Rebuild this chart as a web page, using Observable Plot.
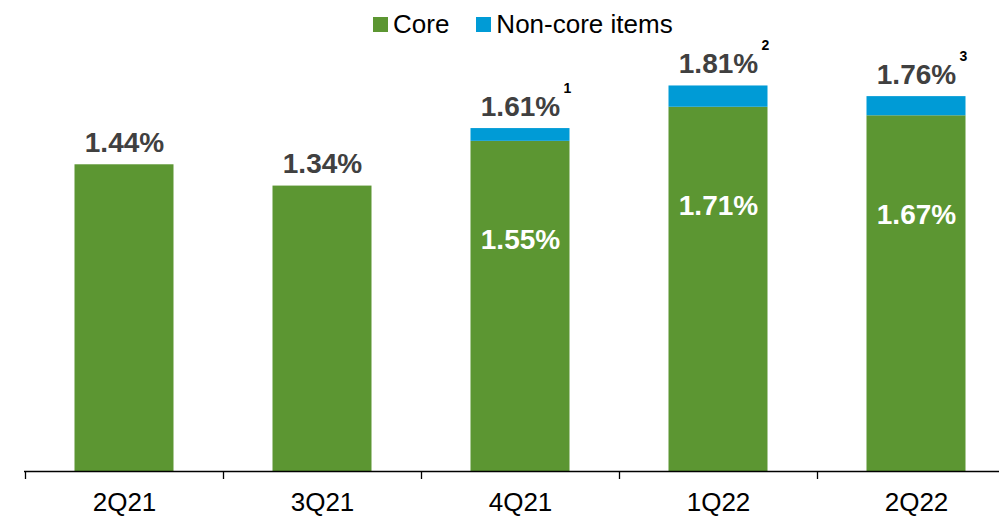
<!DOCTYPE html>
<html>
<head>
<meta charset="utf-8">
<script src="https://cdn.jsdelivr.net/npm/d3@7"></script>
<script src="https://cdn.jsdelivr.net/npm/@observablehq/plot@0.6"></script>
<style>
  html, body { margin: 0; padding: 0; background: #fff; }
  body { width: 999px; height: 516px; overflow: hidden; font-family: "Liberation Sans", Arial, sans-serif; }
  #legend { height: 38px; box-sizing: border-box; padding-top: 10px; padding-left: 373px; display: flex; align-items: center; line-height: 28px; font-size: 26px; color: #000; }
  #legend .sw { width: 15px; height: 15px; display: inline-block; margin-right: 5px; }
  #legend .item { display: flex; align-items: center; margin-right: 27px; }
  #chart svg { display: block; }
</style>
</head>
<body>
<div id="legend"></div>
<div id="chart"></div>
<script>
const quarters = ["2Q21", "3Q21", "4Q21", "1Q22", "2Q22"];
const coreValues = [1.44, 1.34, 1.55, 1.71, 1.67];
const totalValues = [1.44, 1.34, 1.61, 1.81, 1.76];
const footnotes = ["", "", "1", "2", "3"];
const seriesNames = ["Core", "Non-core items"];
const seriesColors = ["#5c9632", "#009bd6"];

const rows = quarters.map((q, i) => ({
  q,
  core: coreValues[i],
  total: totalValues[i],
  nonCore: +(totalValues[i] - coreValues[i]).toFixed(2),
  note: footnotes[i]
}));

const legend = document.getElementById("legend");
seriesNames.forEach((name, i) => {
  const item = document.createElement("div");
  item.className = "item";
  const sw = document.createElement("span");
  sw.className = "sw";
  sw.style.background = seriesColors[i];
  item.appendChild(sw);
  item.appendChild(document.createTextNode(name));
  legend.appendChild(item);
});

const pct = v => v.toFixed(2) + "%";
const font = '"Liberation Sans", Arial, sans-serif';

const chart = Plot.plot({
  width: 999,
  height: 478,
  marginTop: 7,
  marginBottom: 45,
  marginLeft: 24,
  marginRight: 0,
  style: { fontFamily: font, background: "#fff", overflow: "visible" },
  x: { domain: quarters, range: [25, 1015], padding: 0, label: null },
  y: { domain: [0, 2], axis: null },
  marks: [
    Plot.barY(rows, { x: "q", y1: 0, y2: "core", fill: seriesColors[0], insetLeft: 49.5, insetRight: 49.5 }),
    Plot.barY(rows.filter(d => d.nonCore > 0), { x: "q", y1: "core", y2: "total", fill: seriesColors[1], insetLeft: 49.5, insetRight: 49.5 }),
    Plot.ruleY([0], { stroke: "#000", strokeWidth: 1.3 }),
    Plot.ruleX(quarters, { x: d => d, y1: 0, y2: 0, insetBottom: -8, dx: -99, stroke: "#000", strokeWidth: 1.3 }),
    Plot.axisX({ tickSize: 0, tickPadding: 21, fontSize: 26, fill: "#000", label: null }),
    Plot.text(rows, { x: "q", y: "total", text: d => pct(d.total), dy: -13, lineAnchor: "bottom", fontSize: 28, fontWeight: "bold", fill: "#404040" }),
    Plot.text(rows.filter(d => d.note), { x: "q", y: "total", text: "note", dx: 43, dy: -36, textAnchor: "start", lineAnchor: "bottom", fontSize: 14, fontWeight: "bold", fill: "#000" }),
    Plot.text(rows.filter(d => d.nonCore > 0), { x: "q", y: "core", text: d => pct(d.core), dy: 99, lineAnchor: "middle", fontSize: 28, fontWeight: "bold", fill: "#fff" })
  ]
});
document.getElementById("chart").appendChild(chart);
</script>
</body>
</html>
